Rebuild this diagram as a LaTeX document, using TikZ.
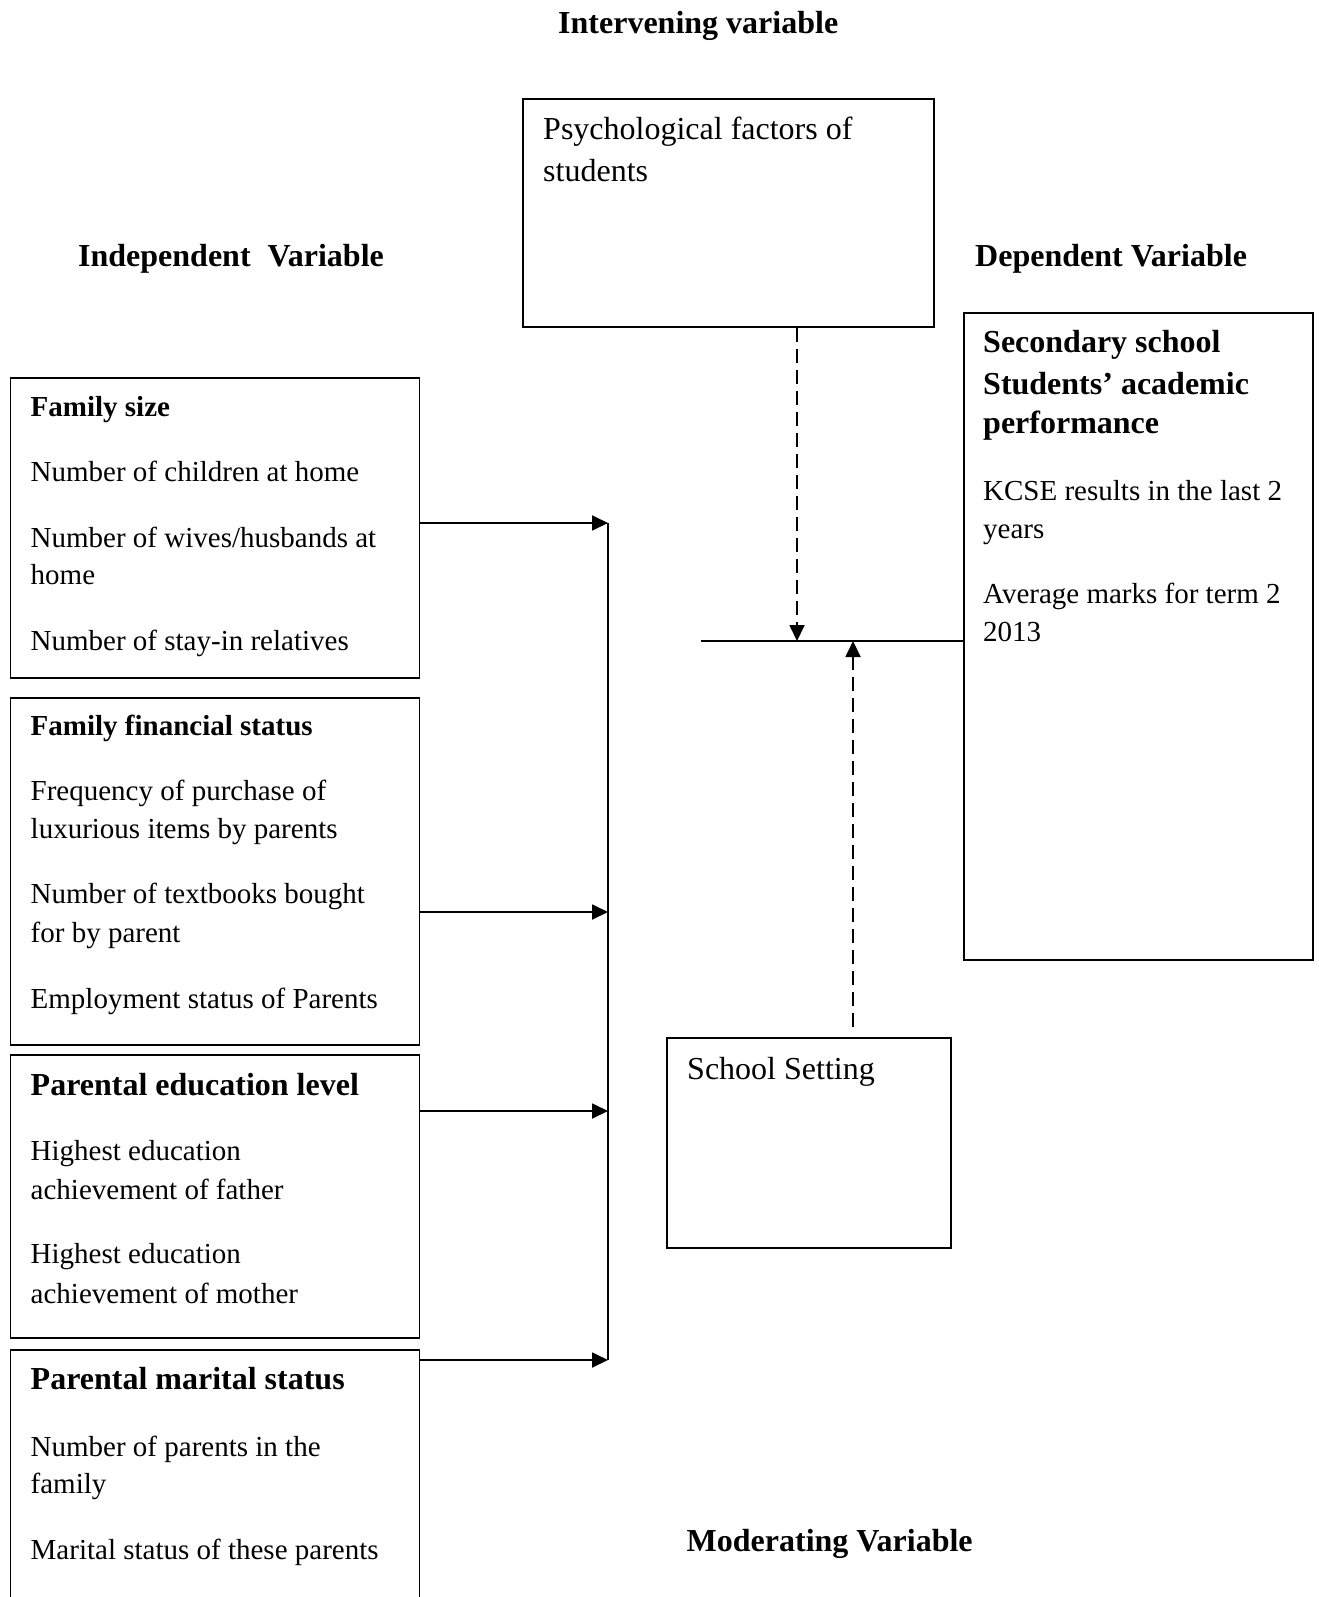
\documentclass[tikz,border=0pt]{standalone}
\usepackage{fontspec}
\setmainfont{Liberation Serif}
\usetikzlibrary{arrows.meta}
\begin{document}
\begin{tikzpicture}[x=1pt,y=-1pt,
 box/.style={draw, line width=1.8pt, rectangle, inner sep=0pt, anchor=north west},
 body/.style={inner sep=0pt, anchor=base west, font=\fontsize{29}{38}\selectfont},
 bodyb/.style={inner sep=0pt, anchor=base west, font=\fontsize{29}{38}\selectfont\bfseries},
 big/.style={inner sep=0pt, anchor=base west, font=\fontsize{32}{42}\selectfont},
 bigb/.style={inner sep=0pt, anchor=base west, font=\fontsize{32}{42}\selectfont\bfseries},
 arr/.style={line width=1.8pt, -{Triangle[length=16pt,width=15pt]}},
 darr/.style={line width=1.8pt, dash pattern=on 14pt off 7pt, -{Triangle[length=16pt,width=15pt]}},
 ln/.style={line width=1.8pt}]
\fill[white] (0,0) rectangle (1318,1597);
\clip (0,0) rectangle (1318,1597);

% titles
\node[bigb] (tint) at (558,34) {Intervening variable};
\node[bigb] (tind) at (78,266) {Independent\hspace{17pt}Variable};
\node[bigb] (tdep) at (975,266) {Dependent Variable};
\node[bigb] (tmod) at (686.5,1551) {Moderating Variable};

% boxes
\node[box, minimum width=411pt, minimum height=228pt] (psy) at (522,98) {};
\node[box, minimum width=349pt, minimum height=647pt] (dep) at (963,312) {};
\node[box, minimum width=409pt, minimum height=300pt] (fs) at (9.5,377) {};
\node[box, minimum width=409pt, minimum height=347pt] (ff) at (9.5,697) {};
\node[box, minimum width=409pt, minimum height=283pt] (pe) at (9.5,1054) {};
\node[box, minimum width=409pt, minimum height=290pt] (pm) at (9.5,1349) {};
\node[box, minimum width=284pt, minimum height=210pt] (sch) at (666,1037) {};

% psychological box text
\node[big] (psy1) at (543,140) {Psychological factors of};
\node[big] (psy2) at (543,182) {students};

% dependent box text
\node[bigb] (dep1) at (983,352) {Secondary school};
\node[bigb] (dep2) at (983,394) {Students’ academic};
\node[bigb] (dep3) at (983,433) {performance};
\node[body] (dep4) at (983,500) {KCSE results in the last 2};
\node[body] (dep5) at (983,538) {years};
\node[body] (dep6) at (983,603) {Average marks for term 2};
\node[body] (dep7) at (983,641) {2013};

% family size
\node[bodyb] (fs0) at (30.5,416) {Family size};
\node[body] (fs1) at (30.5,481) {Number of children at home};
\node[body] (fs2) at (30.5,547) {Number of wives/husbands at};
\node[body] (fs3) at (30.5,584) {home};
\node[body] (fs4) at (30.5,650) {Number of stay-in relatives};

% family financial status
\node[bodyb] (ff0) at (30.5,735) {Family financial status};
\node[body] (ff1) at (30.5,800) {Frequency of purchase of};
\node[body] (ff2) at (30.5,838) {luxurious items by parents};
\node[body] (ff3) at (30.5,903) {Number of textbooks bought};
\node[body] (ff4) at (30.5,942) {for by parent};
\node[body] (ff5) at (30.5,1008) {Employment status of Parents};

% parental education level
\node[bigb] (pe0) at (30.5,1095) {Parental education level};
\node[body] (pe1) at (30.5,1160) {Highest education};
\node[body] (pe2) at (30.5,1199) {achievement of father};
\node[body] (pe3) at (30.5,1263) {Highest education};
\node[body] (pe4) at (30.5,1303) {achievement of mother};

% parental marital status
\node[bigb] (pm0) at (30.5,1389) {Parental marital status};
\node[body] (pm1) at (30.5,1456) {Number of parents in the};
\node[body] (pm2) at (30.5,1493) {family};
\node[body] (pm3) at (30.5,1559) {Marital status of these parents};

% school setting
\node[big] (sch1) at (687,1079) {School Setting};

% connectors
\coordinate (j1) at (608,523);
\coordinate (j2) at (608,912);
\coordinate (j3) at (608,1111);
\coordinate (j4) at (608,1360);
\draw[ln] (j1) -- (j4);
\draw[arr] (fs.east |- j1) -- (j1);
\draw[arr] (ff.east |- j2) -- (j2);
\draw[arr] (pe.east |- j3) -- (j3);
\draw[arr] (pm.east |- j4) -- (j4);

\coordinate (hl) at (701,641);
\coordinate (m1) at (797,641);
\coordinate (m2) at (853,641);
\draw[ln] (hl) -- (dep.west |- hl);
\draw[darr] (psy.south -| m1) -- (m1);
\draw[darr] ([yshift=10pt]sch.north -| m2) -- (m2);
\end{tikzpicture}
\end{document}
